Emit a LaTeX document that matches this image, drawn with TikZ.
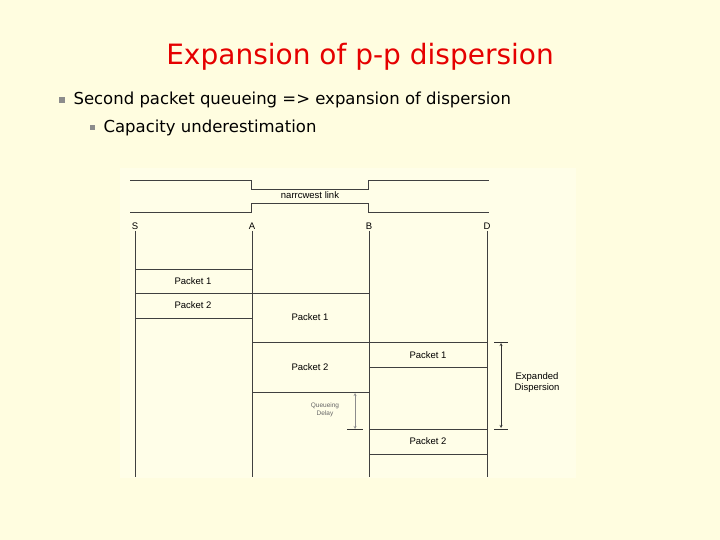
\documentclass[tikz,border=0pt]{standalone}
\usepackage{fontspec}
\setmainfont{DejaVu Sans}
\newfontfamily\diagfont{Liberation Sans}
\begin{document}
\begin{tikzpicture}[x=1pt,y=-1pt,
  ln/.style={draw=black!75,line width=0.8pt},
  pk/.style={font=\diagfont\fontsize{9.5}{11}\selectfont},
  bl/.style={fill=black!45,minimum size=6pt,inner sep=0pt}]
\fill[yellow!12] (0,0) rectangle (720,540);
\useasboundingbox (0,0) rectangle (720,540);
\fill[white!70!yellow!30] (120,168) rectangle (576,478);
\node[text=red!90!black,font=\fontsize{28}{32}\selectfont] (title) at (360,57) {Expansion of p-p dispersion};
\node[bl] (b1) at (62,100) {};
\node[anchor=west,font=\fontsize{16.5}{19}\selectfont] (t1) at (70,100) {Second packet queueing => expansion of dispersion};
\node[bl,minimum size=5pt] (b2) at (92,128) {};
\node[anchor=west,font=\fontsize{16.5}{19}\selectfont] (t2) at (100,128) {Capacity underestimation};
% link
\draw[ln] (130,180) -- (251,180) -- (251,189) -- (368,189) -- (368,180) -- (489,180);
\draw[ln] (130,212) -- (251,212) -- (251,203) -- (368,203) -- (368,212) -- (489,212);
\node[pk] (nl) at (310,195) {narrcwest link};
% verticals
\foreach \n/\x in {S/135,A/252,B/369,D/487}{
  \node[pk] (l\n) at (\x,226) {\n};
  \draw[ln] (\x,231) -- (\x,477);
}
% packets
\draw[ln] (135,269) rectangle (252,293); \node[pk] (p1) at (193,281) {Packet 1};
\draw[ln] (135,293) rectangle (252,318); \node[pk] (p2) at (193,305) {Packet 2};
\draw[ln] (252,293) rectangle (369,342); \node[pk] (p3) at (310,317) {Packet 1};
\draw[ln] (252,342) rectangle (369,392); \node[pk] (p4) at (310,367) {Packet 2};
\draw[ln] (369,342) rectangle (487,367); \node[pk] (p5) at (428,355) {Packet 1};
\draw[ln] (369,429) rectangle (487,454); \node[pk] (p6) at (428,441) {Packet 2};
% queueing delay
\draw[black!45,<->,>=stealth] (355,393) -- (355,429);
\draw[black!80] (347,429) -- (363,429);
\node[text=black!60,font=\diagfont\fontsize{6.5}{7.5}\selectfont,align=center] (qd) at (325,410) {Queueing\\Delay};
% expanded
\draw[black!80,<->,>=stealth] (501,343) -- (501,428);
\draw[black!80] (494,342) -- (508,342) (494,429) -- (508,429);
\node[pk,align=center] (ed) at (537,383) {Expanded\\Dispersion};
\end{tikzpicture}
\end{document}
